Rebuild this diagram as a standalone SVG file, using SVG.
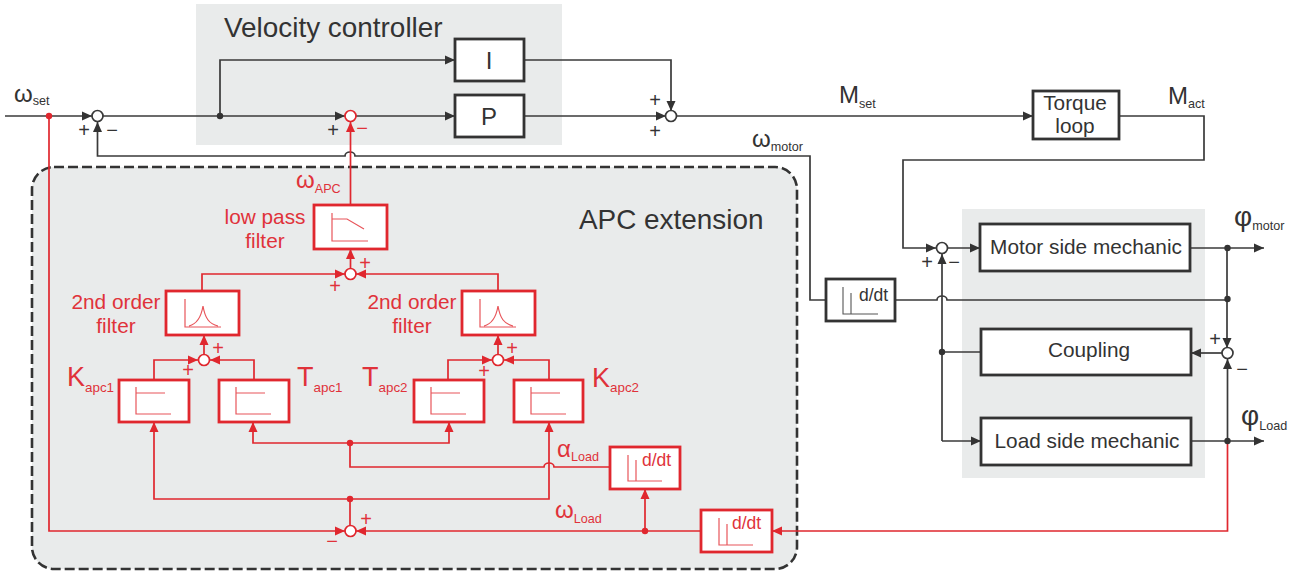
<svg xmlns="http://www.w3.org/2000/svg" width="1298" height="575" viewBox="0 0 1298 575">
<style>
text{font-family:"Liberation Sans",Arial,sans-serif}
.panel{fill:#e9ebeb}
.apc{fill:#e9ebeb;stroke:#333;stroke-width:2.6;stroke-dasharray:10 4}
.k{fill:none;stroke:#3a3a3a;stroke-width:1.7}
.ka{fill:none;stroke:#3a3a3a;stroke-width:1.7;marker-end:url(#ak)}
.r{fill:none;stroke:#e0272e;stroke-width:1.7}
.ra{fill:none;stroke:#e0272e;stroke-width:1.7;marker-end:url(#ar)}
.dk{fill:#333}
.dr{fill:#e0272e}
.bk{fill:#fff;stroke:#333;stroke-width:2.8}
.br{fill:#fff;stroke:#e0272e;stroke-width:2.8}
.ck{fill:#fff;stroke:#3a3a3a;stroke-width:1.7}
.cr{fill:#fff;stroke:#e0272e;stroke-width:1.7}
.ik{fill:none;stroke:#555;stroke-width:1.1}
.ir{fill:none;stroke:#e8555a;stroke-width:1.2}
.tk{fill:#333}
.tr{fill:#e0323a}
.big{font-size:27.9px}
.bt{font-size:20.8px;text-anchor:middle}
.dd{font-size:17.5px}
.sym{font-size:24px}
.phi{font-size:28px}
.kt{font-size:27px}
.sub{font-size:12.6px}
.sa{font-size:13.4px}
.pm{font-size:20px;text-anchor:middle}
</style>
<defs>
<marker id="ak" markerUnits="userSpaceOnUse" markerWidth="11" markerHeight="11" refX="10" refY="5.500" orient="auto"><path d="M0 1 L10 5.500 L0 10 Z" fill="#333"/></marker>
<marker id="ar" markerUnits="userSpaceOnUse" markerWidth="11" markerHeight="11" refX="10" refY="5.500" orient="auto"><path d="M0 1 L10 5.500 L0 10 Z" fill="#e0272e"/></marker>
</defs>
<rect width="1298" height="575" fill="#fff"/>
<g id="panels">
<rect class="panel" x="196" y="4" width="366" height="141"/>
<rect class="panel" x="962" y="209" width="243" height="269"/>
<rect class="apc" x="32" y="167" width="765" height="402" rx="22"/>
</g>
<g id="connectors">
<path class="ka" d="M5 116H92"/>
<path class="ka" d="M103 116H345"/>
<path class="ka" d="M356 116H455"/>
<path class="ka" d="M220 116V60H455"/>
<path class="ka" d="M524 60H671V111"/>
<path class="ka" d="M524 116H666"/>
<path class="ka" d="M677 116H1033"/>
<path class="ka" d="M1119 116H1204V160H903V248H936"/>
<path class="ka" d="M947 248H980"/>
<path class="ka" d="M1190 248H1264"/>
<path class="ka" d="M1227 248V348"/>
<path class="k" d="M895 300H937A5 4 0 0 1 947 300H1227"/>
<path class="ka" d="M826 300H810V156H355A5 4 0 0 0 345 156H97.500V122"/>
<path class="k" d="M981 352H942"/>
<path class="ka" d="M942 441V254"/>
<path class="ka" d="M942 441H981"/>
<path class="ka" d="M1223 353H1191"/>
<path class="ka" d="M1227.500 441V359"/>
<path class="ka" d="M1190 441H1264"/>
<path class="ra" d="M49 116V531H345"/>
<path class="ra" d="M350.500 205V122"/>
<path class="ra" d="M350.500 268V249"/>
<path class="ra" d="M202 291V274H345"/>
<path class="ra" d="M498 291V274H356"/>
<path class="ra" d="M204 354V335"/>
<path class="ra" d="M154 380V360H198"/>
<path class="ra" d="M254 380V360H210"/>
<path class="ra" d="M498 354V335"/>
<path class="ra" d="M448 380V360H492"/>
<path class="ra" d="M549 380V360H504"/>
<path class="ra" d="M350 499H154V422"/>
<path class="ra" d="M350 499H549V422"/>
<path class="r" d="M610 467H554A5 4 0 0 0 544 467H350V443"/>
<path class="ra" d="M350 443H253V422"/>
<path class="ra" d="M350 443H449V422"/>
<path class="r" d="M350 499V526"/>
<path class="ra" d="M1227.500 441V531H772"/>
<path class="ra" d="M701 531H356"/>
<path class="ra" d="M645 531V489"/>
<circle class="dr" cx="49" cy="116" r="3.200"/>
<circle class="dk" cx="220" cy="116" r="3.200"/>
<circle class="dk" cx="1227.500" cy="248" r="3.200"/>
<circle class="dk" cx="1227.500" cy="299" r="3.200"/>
<circle class="dk" cx="942" cy="352" r="3.200"/>
<circle class="dk" cx="1227.500" cy="441" r="3.200"/>
<circle class="dr" cx="350" cy="443" r="3.200"/>
<circle class="dr" cx="350" cy="499" r="3.200"/>
<circle class="dr" cx="645" cy="531" r="3.200"/>
</g>
<g id="block-i"><rect class="bk" x="455" y="39" width="69" height="42"/><text class="tk sym" x="489" y="69" text-anchor="middle">I</text></g>
<g id="block-p"><rect class="bk" x="455" y="95" width="69" height="42"/><text class="tk sym" x="489" y="125" text-anchor="middle">P</text></g>
<g id="block-torque"><rect class="bk" x="1033" y="91" width="86" height="48"/><text class="tk bt" x="1075" y="110">Torque</text><text class="tk bt" x="1075" y="133">loop</text></g>
<g id="block-motor"><rect class="bk" x="980" y="224" width="210" height="47"/><text class="tk bt" x="1086" y="254">Motor side mechanic</text></g>
<g id="block-coupling"><rect class="bk" x="981" y="329" width="210" height="46"/><text class="tk bt" x="1089" y="357">Coupling</text></g>
<g id="block-load"><rect class="bk" x="981" y="418" width="210" height="47"/><text class="tk bt" x="1087" y="448">Load side mechanic</text></g>
<g id="block-ddt-motor"><rect class="bk" x="826" y="279" width="69" height="42"/><path class="ik" d="M843 287V314H878M851 293V314"/><text class="tk dd" x="859" y="301">d/dt</text></g>
<g id="block-lowpass"><rect class="br" x="314" y="205" width="73" height="44"/><path class="ir" d="M332 213V241H368M332 219H347L364 229"/></g>
<g id="block-filter1"><rect class="br" x="166" y="291" width="73" height="44"/><path class="ir" d="M185 299V327H221M189 326C197 324 201 318 203 306C205 318 209 324 218 326"/></g>
<g id="block-filter2"><rect class="br" x="462" y="291" width="73" height="44"/><path class="ir" d="M480 299V327H516M484 326C492 324 496 318 498 306C500 318 504 324 513 326"/></g>
<g id="block-kapc1"><rect class="br" x="119" y="380" width="70" height="42"/><path class="ir" d="M136 387V414H171M136 393H165"/></g>
<g id="block-tapc1"><rect class="br" x="219" y="380" width="70" height="42"/><path class="ir" d="M236 387V414H271M236 393H265"/></g>
<g id="block-tapc2"><rect class="br" x="414" y="380" width="70" height="42"/><path class="ir" d="M431 387V414H466M431 393H460"/></g>
<g id="block-kapc2"><rect class="br" x="514" y="380" width="69" height="42"/><path class="ir" d="M531 387V414H566M531 393H560"/></g>
<g id="block-ddt-alpha"><rect class="br" x="610" y="447" width="70" height="42"/><path class="ir" d="M628 455V481H662M636 460V481"/><text class="tr dd" x="642" y="466">d/dt</text></g>
<g id="block-ddt-omega"><rect class="br" x="701" y="510" width="71" height="42"/><path class="ir" d="M719 518V545H753M727 524V545"/><text class="tr dd" x="732" y="529">d/dt</text></g>
<g id="sum-1"><circle class="ck" cx="97.500" cy="116" r="5.500"/></g>
<g id="sum-2"><circle class="cr" cx="350.500" cy="116" r="5.500"/></g>
<g id="sum-3"><circle class="ck" cx="671" cy="116" r="5.500"/></g>
<g id="sum-4"><circle class="ck" cx="942" cy="248" r="5.500"/></g>
<g id="sum-5"><circle class="ck" cx="1227.500" cy="353" r="5.500"/></g>
<g id="sum-6"><circle class="cr" cx="350.500" cy="274" r="5.500"/></g>
<g id="sum-7"><circle class="cr" cx="204" cy="360" r="5.500"/></g>
<g id="sum-8"><circle class="cr" cx="498" cy="360" r="5.500"/></g>
<g id="sum-9"><circle class="cr" cx="350.500" cy="531" r="5.500"/></g>
<g id="titles">
<text class="tk big" x="224" y="37">Velocity controller</text>
<text class="tk big" x="579" y="229">APC extension</text>
</g>
<g id="labels">
<text class="tk" x="14" y="102"><tspan class="sym">ω</tspan><tspan class="sub" dy="3">set</tspan></text>
<text class="tk" x="839" y="103"><tspan class="sym">M</tspan><tspan class="sub" dy="5">set</tspan></text>
<text class="tk" x="1168" y="104"><tspan class="sym">M</tspan><tspan class="sub" dy="4">act</tspan></text>
<text class="tk" x="752" y="147"><tspan class="sym">ω</tspan><tspan class="sub" dy="4">motor</tspan></text>
<text class="tk" x="1234" y="226"><tspan class="phi">φ</tspan><tspan class="sub" dy="4">motor</tspan></text>
<text class="tk" x="1241" y="425"><tspan class="phi">φ</tspan><tspan class="sub" dy="5">Load</tspan></text>
<text class="tr" x="296" y="188"><tspan class="sym">ω</tspan><tspan class="sub" dy="5">APC</tspan></text>
<text class="tr bt" x="265" y="224">low pass</text>
<text class="tr bt" x="265" y="248">filter</text>
<text class="tr bt" x="116" y="309">2nd order</text>
<text class="tr bt" x="116" y="333">filter</text>
<text class="tr bt" x="412" y="309">2nd order</text>
<text class="tr bt" x="412" y="333">filter</text>
<text class="tr" x="67" y="386"><tspan class="kt">K</tspan><tspan class="sa" dy="6">apc1</tspan></text>
<text class="tr" x="297" y="386"><tspan class="kt">T</tspan><tspan class="sa" dy="6">apc1</tspan></text>
<text class="tr" x="362" y="386"><tspan class="kt">T</tspan><tspan class="sa" dy="6">apc2</tspan></text>
<text class="tr" x="592" y="387"><tspan class="kt">K</tspan><tspan class="sa" dy="5">apc2</tspan></text>
<text class="tr" x="557" y="457"><tspan class="sym">α</tspan><tspan class="sub" dy="4">Load</tspan></text>
<text class="tr" x="555" y="518"><tspan class="sym">ω</tspan><tspan class="sub" dy="5">Load</tspan></text>
</g>
<g id="signs">
<text class="tk pm" x="84" y="137">+</text><text class="tk pm" x="112" y="137">−</text>
<text class="tk pm" x="333" y="137">+</text><text class="tr pm" x="362" y="135">−</text>
<text class="tk pm" x="655" y="107">+</text><text class="tk pm" x="655" y="138">+</text>
<text class="tk pm" x="927" y="269">+</text><text class="tk pm" x="954" y="269">−</text>
<text class="tk pm" x="1215" y="346">+</text><text class="tk pm" x="1242" y="376">−</text>
<text class="tr pm" x="365" y="270">+</text><text class="tr pm" x="335" y="293">+</text>
<text class="tr pm" x="218" y="355">+</text><text class="tr pm" x="188" y="377">+</text>
<text class="tr pm" x="512" y="355">+</text><text class="tr pm" x="484" y="378">+</text>
<text class="tr pm" x="366" y="526">+</text><text class="tr pm" x="332" y="548">−</text>
</g>
</svg>
